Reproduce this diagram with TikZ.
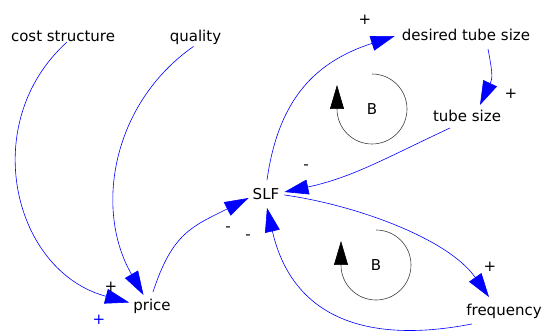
\documentclass[tikz,border=0pt]{standalone}
\usepackage{fontspec}
\setmainfont{DejaVu Sans}
\usepackage{tikz}
\usetikzlibrary{arrows.meta}

\begin{document}
\begin{tikzpicture}[
    x=1pt, y=1pt,
    var/.style={font=\fontsize{15}{18}\selectfont, inner sep=0pt},
    sign/.style={font=\fontsize{15}{18}\selectfont, inner sep=0pt},
    link/.style={draw=blue, line width=0.6pt, -{Triangle[length=24pt,width=15pt]}},
    loopmark/.style={draw=black!75, line width=0.6pt, -{Triangle[length=24pt,width=14pt,color=black]}}
]
\useasboundingbox (0,0) rectangle (544,-331);

% Variables
\node[var] (cost) at (63,-36.5) {cost structure};
\node[var] (quality) at (195.5,-37) {quality};
\node[var] (desired) at (466,-35) {desired tube size};
\node[var] (tube) at (467,-116) {tube size};
\node[var] (slf) at (266,-194) {SLF};
\node[var] (price) at (152,-306.5) {price};
\node[var] (freq) at (504,-311.5) {frequency};

% Loop markers
\node[var] (loopA) at (372,-109) {B};
\node[var] (loopB) at (376,-265) {B};
\draw[loopmark] (372,-74) arc[start angle=90, end angle=-180, radius=35] -- ++(0,24);
\draw[loopmark] (376,-230) arc[start angle=90, end angle=-180, radius=35] -- ++(0,24);

% Links
\draw[link] ([xshift=4pt]cost.south) to[out=222, in=165, looseness=1.15] ([xshift=-4pt,yshift=4pt]price.west);
\draw[link] ([xshift=-2pt,yshift=-2pt]quality.south) to[out=215, in=120] ([xshift=-8.5pt,yshift=4pt]price.north);
\draw[link] ([xshift=1pt,yshift=7pt]price.north) to[out=72, in=207, looseness=1.2] ([xshift=-4pt,yshift=-4pt]slf.west);
\draw[link] ([xshift=1pt,yshift=8pt]slf.north) to[out=82, in=198, looseness=1.1] ([xshift=-7pt,yshift=-1pt]desired.west);
\draw[link] ([xshift=22pt,yshift=-8pt]desired.south) to[out=-79, in=65, looseness=1.3] ([xshift=13pt,yshift=5pt]tube.north);
\draw[link] ([xshift=-17pt,yshift=-6pt]tube.south) to[out=205, in=12] ([xshift=5pt,yshift=2pt]slf.east);
\draw[link] ([xshift=5pt,yshift=-1pt]slf.east) to[out=-8, in=125, looseness=0.8] ([xshift=-15pt,yshift=7pt]freq.north);
\draw[link] ([xshift=-32pt,yshift=-5pt]freq.south) to[out=191, in=-77, looseness=1.2] ([xshift=1pt,yshift=-8pt]slf.south);

% Polarities
\node[sign] (sDesired) at (365,-20) {+};
\node[sign] (sTube) at (511,-94) {+};
\node[sign] (sFreq) at (490,-267) {+};
\node[sign] (sPrice) at (111,-287) {+};
\node[sign, text=blue] (sPriceB) at (99,-320) {+};
\node[sign] (mTube) at (306,-167) {-};
\node[sign] (mSlfA) at (228,-229) {-};
\node[sign] (mSlfB) at (248,-237) {-};

\end{tikzpicture}
\end{document}
